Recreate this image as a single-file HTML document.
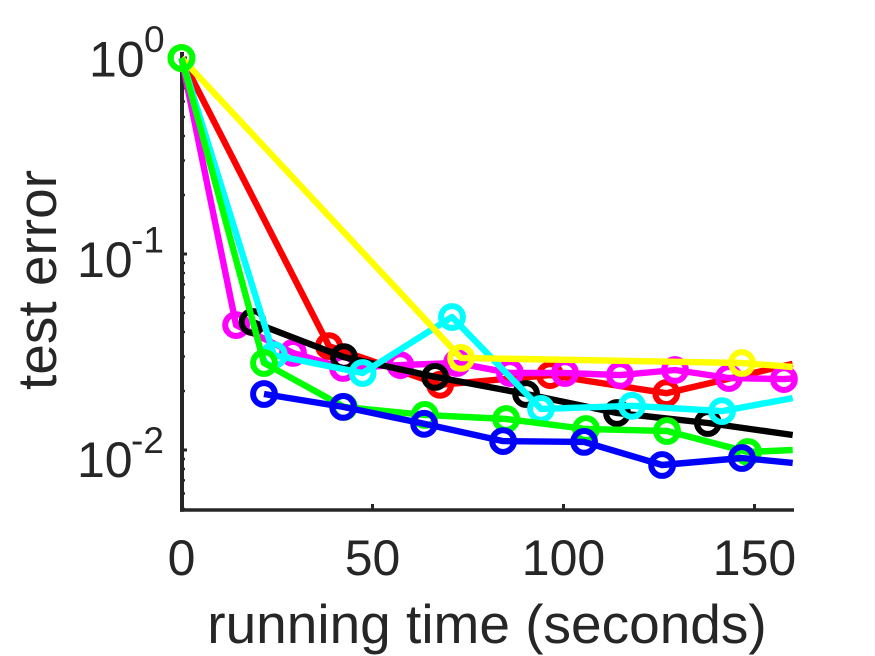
<!DOCTYPE html>
<html lang="en">
<head>
<meta charset="utf-8">
<title>test error vs running time</title>
<style>
html,body{margin:0;padding:0;background:#fff;}
svg{display:block;}
text{font-family:"Liberation Sans",Arial,sans-serif;fill:#262626;}
</style>
</head>
<body>
<svg id="chart" width="875" height="656" viewBox="0 0 875 656" xmlns="http://www.w3.org/2000/svg">
<g id="marks"></g>
<g id="axes"></g>
<text x="487" y="643" font-size="55" text-anchor="middle">running time (seconds)</text>
<text transform="translate(56,280) rotate(-90)" font-size="55" text-anchor="middle">test error</text>
</svg>
<script>
var xTickValues = [0, 50, 100, 150];
var yTickExponents = [0, -1, -2];
var yMinorTicks = [0.9,0.8,0.7,0.6,0.5,0.4,0.3,0.2,0.09,0.08,0.07,0.06,0.05,0.04,0.03,0.02,0.009,0.008,0.007,0.006,0.005];

var redTimes = [0, 38.6, 67.7, 96.5, 126.9, 160];
var redErrors = [1, 0.0339, 0.0215, 0.0241, 0.0195, 0.0275];
var magentaTimes = [0, 14.3, 29.2, 42.3, 57.3, 72.1, 86, 100.4, 114.8, 129.2, 143.3, 157.7, 160];
var magentaErrors = [1, 0.0434, 0.0313, 0.0262, 0.0271, 0.0278, 0.0247, 0.0247, 0.0241, 0.0256, 0.0233, 0.0230, 0.0232];
var blackTimes = [18.6, 42.5, 66.4, 90.2, 114, 137.8, 160];
var blackErrors = [0.0450, 0.0298, 0.0236, 0.0193, 0.01545, 0.01373, 0.01193];
var cyanTimes = [0, 24.2, 47.4, 70.8, 94.1, 117.9, 141.5, 160];
var cyanErrors = [1, 0.0305, 0.0247, 0.0477, 0.0162, 0.0168, 0.0158, 0.0184];
var yellowTimes = [0, 73.2, 146.7, 160];
var yellowErrors = [1, 0.0295, 0.0278, 0.0265];
var greenTimes = [0, 21.6, 42.5, 63.7, 85, 105.9, 127.1, 148.3, 160];
var greenErrors = [1, 0.0278, 0.0166, 0.0151, 0.0144, 0.0128, 0.0125, 0.00977, 0.0100];
var blueTimes = [21.6, 42.3, 63.5, 84.2, 105.4, 125.8, 146.7, 160];
var blueErrors = [0.0193, 0.0166, 0.0136, 0.0111, 0.0110, 0.00838, 0.0091, 0.00859];

var svgNS = 'http://www.w3.org/2000/svg';
var marks = document.getElementById('marks');
var axes = document.getElementById('axes');

function xScale(t) { return 181.5 + t * 3.82; }
function yScale(v) { return 58 - Math.log10(v) * 196; }

function make(tag, attrs, parent) {
  var el = document.createElementNS(svgNS, tag);
  for (var k in attrs) { el.setAttribute(k, attrs[k]); }
  parent.appendChild(el);
  return el;
}

function drawSeries(name, color, times, errors) {
  var group = make('g', {}, marks);
  
  
  var pts = times.map(function (t, i) { return xScale(t).toFixed(1) + ',' + yScale(errors[i]).toFixed(1); }).join(' ');
  var line = make('polyline', { points: pts, fill: 'none', stroke: color, 'stroke-width': 6.4, 'stroke-linejoin': 'round', 'stroke-linecap': 'butt' }, group);
  
  
  times.forEach(function (t, i) {
    if (t >= 160) { return; }
    var ring = make('circle', { cx: xScale(t).toFixed(1), cy: yScale(errors[i]).toFixed(1), r: 10.9, fill: 'none', stroke: color, 'stroke-width': 6 }, group);
    
    
  });
}

drawSeries('red', '#ff0000', redTimes, redErrors);
drawSeries('magenta', '#ff00ff', magentaTimes, magentaErrors);
drawSeries('black', '#000000', blackTimes, blackErrors);
drawSeries('cyan', '#00ffff', cyanTimes, cyanErrors);
drawSeries('yellow', '#ffff00', yellowTimes, yellowErrors);
drawSeries('green', '#00ff00', greenTimes, greenErrors);
drawSeries('blue', '#0000ff', blueTimes, blueErrors);

/* axis lines go beneath the series */
var axisLayer = document.createElementNS(svgNS, 'g');


marks.insertBefore(axisLayer, marks.firstChild);

var yAxisLine = make('line', { x1: 182, y1: 52, x2: 182, y2: 511.7, stroke: '#262626', 'stroke-width': 4 }, axisLayer);


var xAxisLine = make('line', { x1: 180, y1: 510, x2: 794, y2: 510, stroke: '#262626', 'stroke-width': 3.6 }, axisLayer);



xTickValues.forEach(function (v) {
  var x = xScale(v);
  var tick = make('line', { x1: x, y1: 510, x2: x, y2: 504, stroke: '#262626', 'stroke-width': 3 }, axisLayer);
  
  
  var label = make('text', { x: x, y: 575, 'font-size': 50, 'text-anchor': 'middle' }, axes);
  
  
  label.textContent = String(v);
});

yTickExponents.forEach(function (e) {
  var y = yScale(Math.pow(10, e));
  var tick = make('line', { x1: 182, y1: y, x2: 187, y2: y, stroke: '#262626', 'stroke-width': 3 }, axisLayer);
  
  
  var neg = e < 0;
  var label = make('text', { x: neg ? 77 : 89, y: y + 18.5 - 4.25 * e, 'font-size': 50 }, axes);
  
  
  label.textContent = '10';
  var exp = make('text', { x: neg ? 131 : 144, y: y - 6 - 4.5 * e, 'font-size': 37 }, axes);
  
  
  exp.textContent = String(e);
});

yMinorTicks.forEach(function (v) {
  var y = yScale(v);
  var tick = make('line', { x1: 182, y1: y, x2: 185, y2: y, stroke: '#262626', 'stroke-width': 2.4 }, axisLayer);
  
  
});
</script>
</body>
</html>
